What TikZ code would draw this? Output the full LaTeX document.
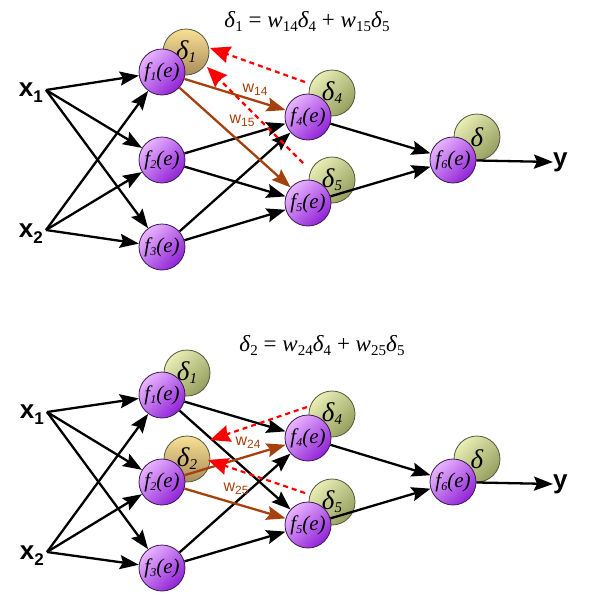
\documentclass[tikz,border=0pt]{standalone}
\usepackage{fontspec}
\setmainfont{Liberation Serif}
\newfontfamily\arialfont{Liberation Sans}
\usetikzlibrary{arrows.meta}
\definecolor{flight}{RGB}{232,180,255}
\definecolor{fdark}{RGB}{145,35,215}
\definecolor{fborder}{RGB}{60,25,80}
\definecolor{glight}{RGB}{232,238,180}
\definecolor{gdark}{RGB}{150,158,95}
\definecolor{gborder}{RGB}{85,90,60}
\definecolor{olight}{RGB}{248,224,150}
\definecolor{odark}{RGB}{170,140,90}
\definecolor{brn}{RGB}{165,65,15}
\newcommand\fsub[2]{#1\raisebox{-3pt}{\fontsize{12}{12}\selectfont #2}}
\newcommand\dsub[2]{#1\raisebox{-3pt}{\fontsize{15}{15}\selectfont #2}}
\newcommand\xsub[2]{#1\raisebox{-6pt}{\fontsize{17}{17}\selectfont #2}}
\newcommand\wsub[2]{#1\raisebox{-3pt}{\fontsize{12}{12}\selectfont #2}}
\newcommand\esub[2]{#1\raisebox{-4pt}{\fontsize{15}{15}\selectfont #2}}
\begin{document}
\begin{tikzpicture}[x=1pt,y=-1pt,
  fn/.style={circle, draw=fborder, line width=0.8pt, minimum size=46pt, inner sep=0pt,
    top color=flight, bottom color=fdark, shading angle=45,
    font=\fontsize{21}{21}\selectfont\itshape},
  dn/.style={circle, draw=gborder, line width=0.8pt, minimum size=46pt, inner sep=0pt,
    top color=glight, bottom color=gdark, shading angle=45,
    font=\fontsize{27}{27}\selectfont\itshape},
  dg/.style={dn, top color=olight, bottom color=odark},
  ar/.style={line width=2.3pt, -{Stealth[length=19pt,width=14pt,inset=3pt]}},
  br/.style={ar, draw=brn},
  rd/.style={draw=red, dash pattern=on 5pt off 4pt, line width=2.2pt,
    -{Stealth[length=20pt,width=17pt,inset=2pt]}},
  wl/.style={text=brn, inner sep=0pt, font=\arialfont\fontsize{16}{16}\selectfont},
  xl/.style={inner sep=0pt, font=\arialfont\bfseries\fontsize{26}{26}\selectfont},
  eq/.style={inner sep=0pt, font=\fontsize{23}{23}\selectfont}
]
\useasboundingbox (0,0) rectangle (589,600);

% ---------------- top diagram ----------------
\node[eq] (eqa) at (307,22) {\esub{\textit{δ}}{1} = \esub{\textit{w}}{14}\esub{\textit{δ}}{4} + \esub{\textit{w}}{15}\esub{\textit{δ}}{5}};

\node[xl, anchor=east] (x1t) at (43,93) {\xsub{x}{1}};
\node[xl, anchor=east] (x2t) at (43,234) {\xsub{x}{2}};
\coordinate (x1) at (46,90);
\coordinate (x2) at (46,230);

\node[dg] (d1) at (186,52) {\dsub{δ}{1}};
\node[dn] (d4) at (332,93) {\dsub{δ}{4}};
\node[dn] (d5) at (332,180) {\dsub{δ}{5}};
\node[dn] (d6) at (477,137) {δ};

\node[fn] (f1) at (162,72) {\fsub{f}{1}(e)};
\node[fn] (f2) at (162,160) {\fsub{f}{2}(e)};
\node[fn] (f3) at (162,247) {\fsub{f}{3}(e)};
\node[fn] (f4) at (308,117) {\fsub{f}{4}(e)};
\node[fn] (f5) at (308,203) {\fsub{f}{5}(e)};
\node[fn] (f6) at (453,160) {\fsub{f}{6}(e)};
\node[xl, anchor=west] (yt) at (553,162) {y};

\foreach \s in {x1,x2}{\foreach \t in {f1,f2,f3}{\draw[ar] (\s) -- (\t);}}
\draw[ar] (f2) -- (f4);
\draw[ar] (f2) -- (f5);
\draw[ar] (f3) -- (f4);
\draw[ar] (f3) -- (f5);
\draw[ar] (f4) -- (f6);
\draw[ar] (f5) -- (f6);
\draw[ar] (f6) -- (yt.west);
\draw[br] (f1) -- (f4);
\draw[br] (f1) -- (f5);
\node[wl] (w14) at (255,90) {\wsub{w}{14}};
\node[wl] (w15) at (242,121) {\wsub{w}{15}};
\coordinate (ra) at (305,82);
\coordinate (rat) at (210,48);
\coordinate (rb) at (303,163);
\coordinate (rbt) at (207,67);
\draw[rd] (ra) -- (rat);
\draw[rd] (rb) -- (rbt);

% ---------------- bottom diagram ----------------
\node[eq] (eqb) at (322,346) {\esub{\textit{δ}}{2} = \esub{\textit{w}}{24}\esub{\textit{δ}}{4} + \esub{\textit{w}}{25}\esub{\textit{δ}}{5}};

\node[xl, anchor=east] (y1t) at (44,415) {\xsub{x}{1}};
\node[xl, anchor=east] (y2t) at (44,556) {\xsub{x}{2}};
\coordinate (u1) at (47,412);
\coordinate (u2) at (47,552);

\node[dn] (e1) at (187,373) {\dsub{δ}{1}};
\node[dg] (e2) at (187,459) {\dsub{δ}{2}};
\node[dn] (e4) at (332,414) {\dsub{δ}{4}};
\node[dn] (e5) at (332,502) {\dsub{δ}{5}};
\node[dn] (e6) at (477,459) {δ};

\node[fn] (g1) at (162,395) {\fsub{f}{1}(e)};
\node[fn] (g2) at (162,482) {\fsub{f}{2}(e)};
\node[fn] (g3) at (162,568) {\fsub{f}{3}(e)};
\node[fn] (g4) at (308,438) {\fsub{f}{4}(e)};
\node[fn] (g5) at (308,525) {\fsub{f}{5}(e)};
\node[fn] (g6) at (453,482) {\fsub{f}{6}(e)};
\node[xl, anchor=west] (zt) at (553,484) {y};

\foreach \s in {u1,u2}{\foreach \t in {g1,g2,g3}{\draw[ar] (\s) -- (\t);}}
\draw[ar] (g1) -- (g4);
\draw[ar] (g1) -- (g5);
\draw[ar] (g3) -- (g4);
\draw[ar] (g3) -- (g5);
\draw[ar] (g4) -- (g6);
\draw[ar] (g5) -- (g6);
\draw[ar] (g6) -- (zt.west);
\draw[br] (g2) -- (g4);
\draw[br] (g2) -- (g5);
\node[wl] (w24) at (248,443) {\wsub{w}{24}};
\node[wl] (w25) at (236,489) {\wsub{w}{25}};
\coordinate (rc) at (307,407);
\coordinate (rct) at (210,440);
\coordinate (rd) at (305,493);
\coordinate (rdt) at (208,460);
\draw[rd] (rc) -- (rct);
\draw[rd] (rd) -- (rdt);
\end{tikzpicture}
\end{document}
